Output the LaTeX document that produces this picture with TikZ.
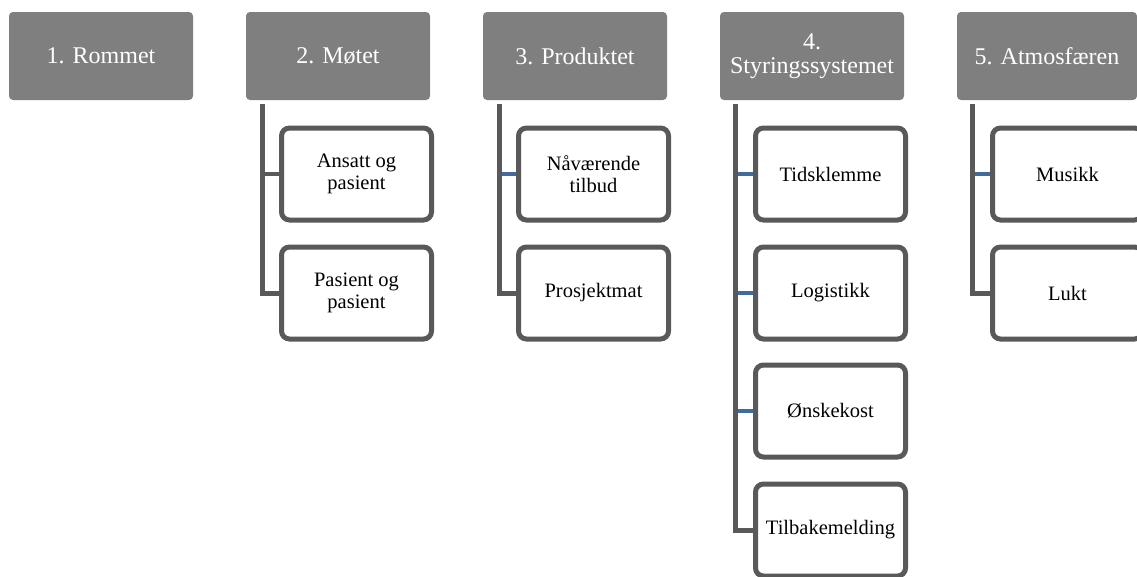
\documentclass[tikz,border=0pt]{standalone}
\usepackage{fontspec}
\setmainfont{Liberation Serif}
\usetikzlibrary{backgrounds}
\definecolor{hdr}{RGB}{127,127,127}
\definecolor{edgegray}{RGB}{89,89,89}
\definecolor{stubblue}{RGB}{65,106,158}
\tikzset{
 header/.style={fill=hdr, rounded corners=4pt, minimum width=184pt, minimum height=88pt, text=white, font=\fontsize{24}{24}\selectfont, align=center, inner sep=0pt, outer sep=0pt},
 child/.style={draw=edgegray, line width=5pt, fill=white, rounded corners=8pt, minimum width=150pt, minimum height=92pt, font=\fontsize{20.5}{22}\selectfont, align=center, inner sep=0pt, outer sep=0pt},
 trunk/.style={draw=edgegray, line width=5pt},
 graystub/.style={draw=edgegray, line width=4pt},
 bluestub/.style={draw=stubblue, line width=4pt},
}
\begin{document}
\begin{tikzpicture}[x=1pt,y=-1pt]
\useasboundingbox (0,0) rectangle (1137,576);
\clip (0,0) rectangle (1137,576);
% headers
\node[header] (h1) at (101,56) {1. Rommet};
\node[header] (h2) at (338,56) {2. Møtet};
\node[header] (h3) at (575,56) {3. Produktet};
\node[header] (h4) at (812,56) {4.\\Styringssystemet};
\node[header, minimum width=180pt] (h5) at (1047,56) {5. Atmosfæren};
% children column 2
\node[child] (c2a) at (356.5,174) {Ansatt og\\pasient};
\node[child] (c2b) at (356.5,293) {Pasient og\\pasient};
% column 3
\node[child] (c3a) at (593.5,174) {Nåværende\\tilbud};
\node[child] (c3b) at (593.5,293) {Prosjektmat};
% column 4
\node[child] (c4a) at (830.5,174) {Tidsklemme};
\node[child] (c4b) at (830.5,293) {Logistikk};
\node[child] (c4c) at (830.5,411) {Ønskekost};
\node[child] (c4d) at (830.5,530) {Tilbakemelding};
% column 5
\node[child] (c5a) at (1067.5,174) {Musikk};
\node[child] (c5b) at (1067.5,293) {Lukt};
% trunk tops
\coordinate (t2) at (262,104);
\coordinate (t3) at (499,104);
\coordinate (t4) at (735.5,104);
\coordinate (t5) at (972.5,104);
\begin{scope}[on background layer]
\draw[graystub] (t2 |- c2a.west) -- (c2a.west);
\draw[trunk] (t2) |- (c2b.west);
\draw[bluestub] (t3 |- c3a.west) -- (c3a.west);
\draw[trunk] (t3) |- (c3b.west);
\draw[bluestub] (t4 |- c4a.west) -- (c4a.west);
\draw[bluestub] (t4 |- c4b.west) -- (c4b.west);
\draw[bluestub] (t4 |- c4c.west) -- (c4c.west);
\draw[trunk] (t4) |- (c4d.west);
\draw[bluestub] (t5 |- c5a.west) -- (c5a.west);
\draw[trunk] (t5) |- (c5b.west);
\end{scope}
\end{tikzpicture}
\end{document}
